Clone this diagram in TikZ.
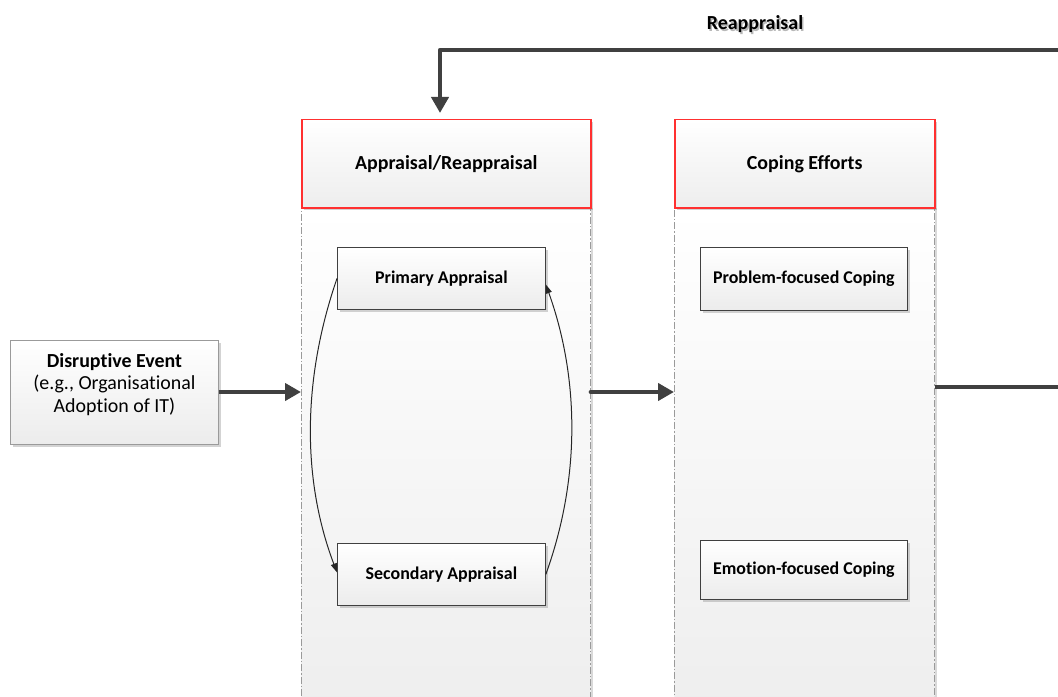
\documentclass[tikz,border=0pt]{standalone}
\usepackage{fontspec}
\setmainfont{Carlito}[Ligatures=CommonOff]
\usetikzlibrary{arrows.meta,shadows}
\definecolor{arrowgray}{HTML}{404040}
\definecolor{headred}{HTML}{FF3030}
\definecolor{edgegray}{HTML}{9A9A9A}
\tikzset{
  hdr/.style={draw=headred, line width=1.5bp, top color=white, bottom color=gray!14,
    minimum width=289bp, minimum height=88bp, inner sep=0pt, font=\bfseries\fontsize{20}{24}\selectfont,
    drop shadow={shadow xshift=2.5bp, shadow yshift=-2.5bp, opacity=0.35, fill=gray}},
  lane/.style={draw=edgegray, line width=0.9bp, dash pattern=on 7bp off 2bp on 1.5bp off 2bp,
    top color=white, bottom color=gray!13, minimum width=289bp, minimum height=490bp, inner sep=0pt,
    drop shadow={shadow xshift=2.5bp, shadow yshift=-1bp, opacity=0.3, fill=gray}},
  inbox/.style={draw=black!75, line width=0.8bp, top color=white, bottom color=gray!15,
    minimum width=208bp, minimum height=62bp, inner sep=0pt, font=\bfseries\fontsize{18}{21}\selectfont,
    drop shadow={shadow xshift=2.5bp, shadow yshift=-2.5bp, opacity=0.35, fill=gray}},
  bigarrow/.style={draw=arrowgray, line width=4.5bp, -{Triangle[length=16bp,width=17bp]}},
  bigline/.style={draw=arrowgray, line width=4.5bp, line join=round},
  thinarrow/.style={draw=black!85, line width=1bp, -{Triangle[length=9bp,width=6bp]}},
}
\begin{document}
\begin{tikzpicture}[x=1bp,y=-1bp]
\useasboundingbox (0,0) rectangle (1058,697);

% swim lanes (bodies first, then headers on top)
\node[lane, anchor=north west] (ab) at (301,207) {};
\node[lane, anchor=north west, minimum width=260bp] (cb) at (674,207) {};
\node[hdr, anchor=north west] (ah) at (301,119) {Appraisal/Reappraisal};
\node[hdr, anchor=north west, minimum width=260bp] (ch) at (674,119) {Coping Efforts};

% appraisal steps
\node[inbox, anchor=north west] (pa) at (337,247) {Primary Appraisal};
\node[inbox, anchor=north west] (sa) at (337,543) {Secondary Appraisal};

% coping strategies
\node[inbox, anchor=north west, minimum width=207bp, minimum height=63bp] (pf) at (700,247) {Problem-focused Coping};
\node[inbox, anchor=north west, minimum width=207bp, minimum height=59bp] (ef) at (700,540) {Emotion-focused Coping};

% triggering event
\node[draw=edgegray, line width=0.9bp, top color=white, bottom color=gray!15,
  minimum width=208bp, minimum height=104bp, inner sep=0pt, anchor=north west,
  drop shadow={shadow xshift=2.5bp, shadow yshift=-2.5bp, opacity=0.35, fill=gray}]
  (de) at (10,340) {};
\node[align=center, font=\fontsize{20}{22.5}\selectfont, inner sep=0pt, yshift=8bp]
  (det) at (de.center) {\textbf{Disruptive Event}\\(e.g., Organisational\\Adoption of IT)};

% feedback label with its soft shadow
\node[font=\bfseries\fontsize{20}{24}\selectfont, text=black, opacity=0.28, xshift=1.5bp, yshift=-2bp] (rls) at (755,24) {Reappraisal};
\node[font=\bfseries\fontsize{20}{24}\selectfont] (rl) at (755,24) {Reappraisal};

% main flow
\coordinate (m1) at (0,392);
\coordinate (m2) at (0,387);
\coordinate (rout) at (1058,387);
\draw[bigarrow] (de.east |- m1) -- (ab.west |- m1);
\draw[bigarrow, line cap=round] (ab.east |- m1) -- (cb.west |- m1);
\draw[bigline] (cb.east |- m2) -- (rout);

% reappraisal feedback loop
\coordinate (t1) at (1058,50);
\coordinate (t2) at (440,50);
\draw[bigarrow, line join=round, shorten >=6bp] (t1) -- (t2) -- (t2 |- ah.north);

% cycle between primary and secondary appraisal
\draw[thinarrow] (pa.west) .. controls (302,380) and (302,480) .. ([yshift=2bp]sa.west);
\draw[thinarrow] (sa.east) .. controls (580,480) and (580,380) .. ([yshift=-6bp]pa.east);
\end{tikzpicture}
\end{document}
